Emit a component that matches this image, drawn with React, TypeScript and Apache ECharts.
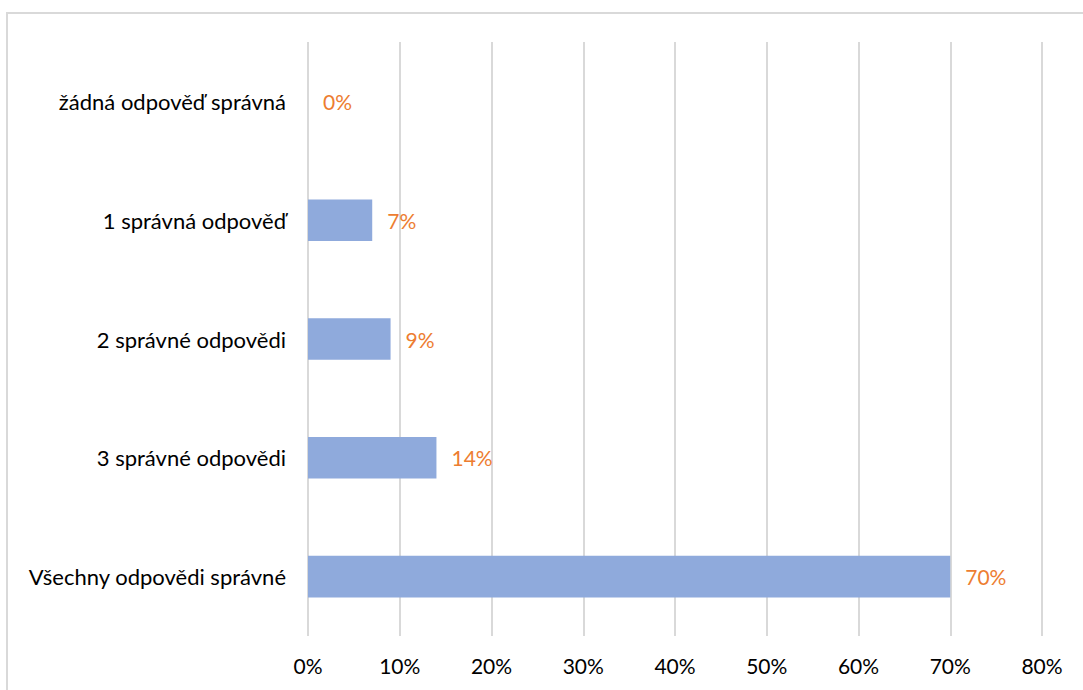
import React, { useEffect, useRef } from "react";
import * as echarts from "echarts";

const categories = [
  "Všechny odpovědi správné",
  "3 správné odpovědi",
  "2 správné odpovědi",
  "1 správná odpověď",
  "žádná odpověď správná",
];
const values = [70, 14, 9, 7, 0];
const xTicks = [0, 10, 20, 30, 40, 50, 60, 70, 80];

export default function App() {
  const ref = useRef<HTMLDivElement>(null);
  useEffect(() => {
    document.body.style.margin = "0";
    const chart = echarts.init(ref.current!, null, { renderer: "svg" });
    const font = "Lato, 'Open Sans', sans-serif";
    chart.setOption({
      animation: false,
      backgroundColor: "#ffffff",
      graphic: [
        {
          type: "rect",
          shape: { x: 7, y: 13, width: 1200, height: 800 },
          style: { fill: "none", stroke: "#D9D9D9", lineWidth: 2 },
          silent: true,
        },
      ],
      grid: { left: 308, right: 41, top: 42, bottom: 54, containLabel: false },
      xAxis: {
        type: "value",
        min: xTicks[0],
        max: xTicks[xTicks.length - 1],
        interval: 10,
        axisLine: { show: false },
        axisTick: { show: false },
        splitLine: { show: true, lineStyle: { color: "#D9D9D9", width: 2 } },
        axisLabel: {
          formatter: (v: number) => v + "%",
          color: "#000000",
          fontSize: 21,
          fontFamily: font,
          margin: 19,
        },
      },
      yAxis: {
        type: "category",
        data: categories,
        axisLine: { show: false },
        axisTick: { show: false },
        splitLine: { show: false },
        axisLabel: {
          color: "#000000",
          fontSize: 22,
          fontFamily: font,
          margin: 22,
        },
      },
      series: [
        {
          type: "bar",
          data: values,
          barCategoryGap: "65%",
          itemStyle: { color: "#8FAADC" },
          label: {
            show: true,
            position: "right",
            distance: 15,
            formatter: (p: any) => p.value + "%",
            color: "#ED7D31",
            fontSize: 21,
            fontFamily: font,
          },
        },
      ],
    });
    return () => chart.dispose();
  }, []);
  return <div ref={ref} style={{ width: 1083, height: 690 }} />;
}
